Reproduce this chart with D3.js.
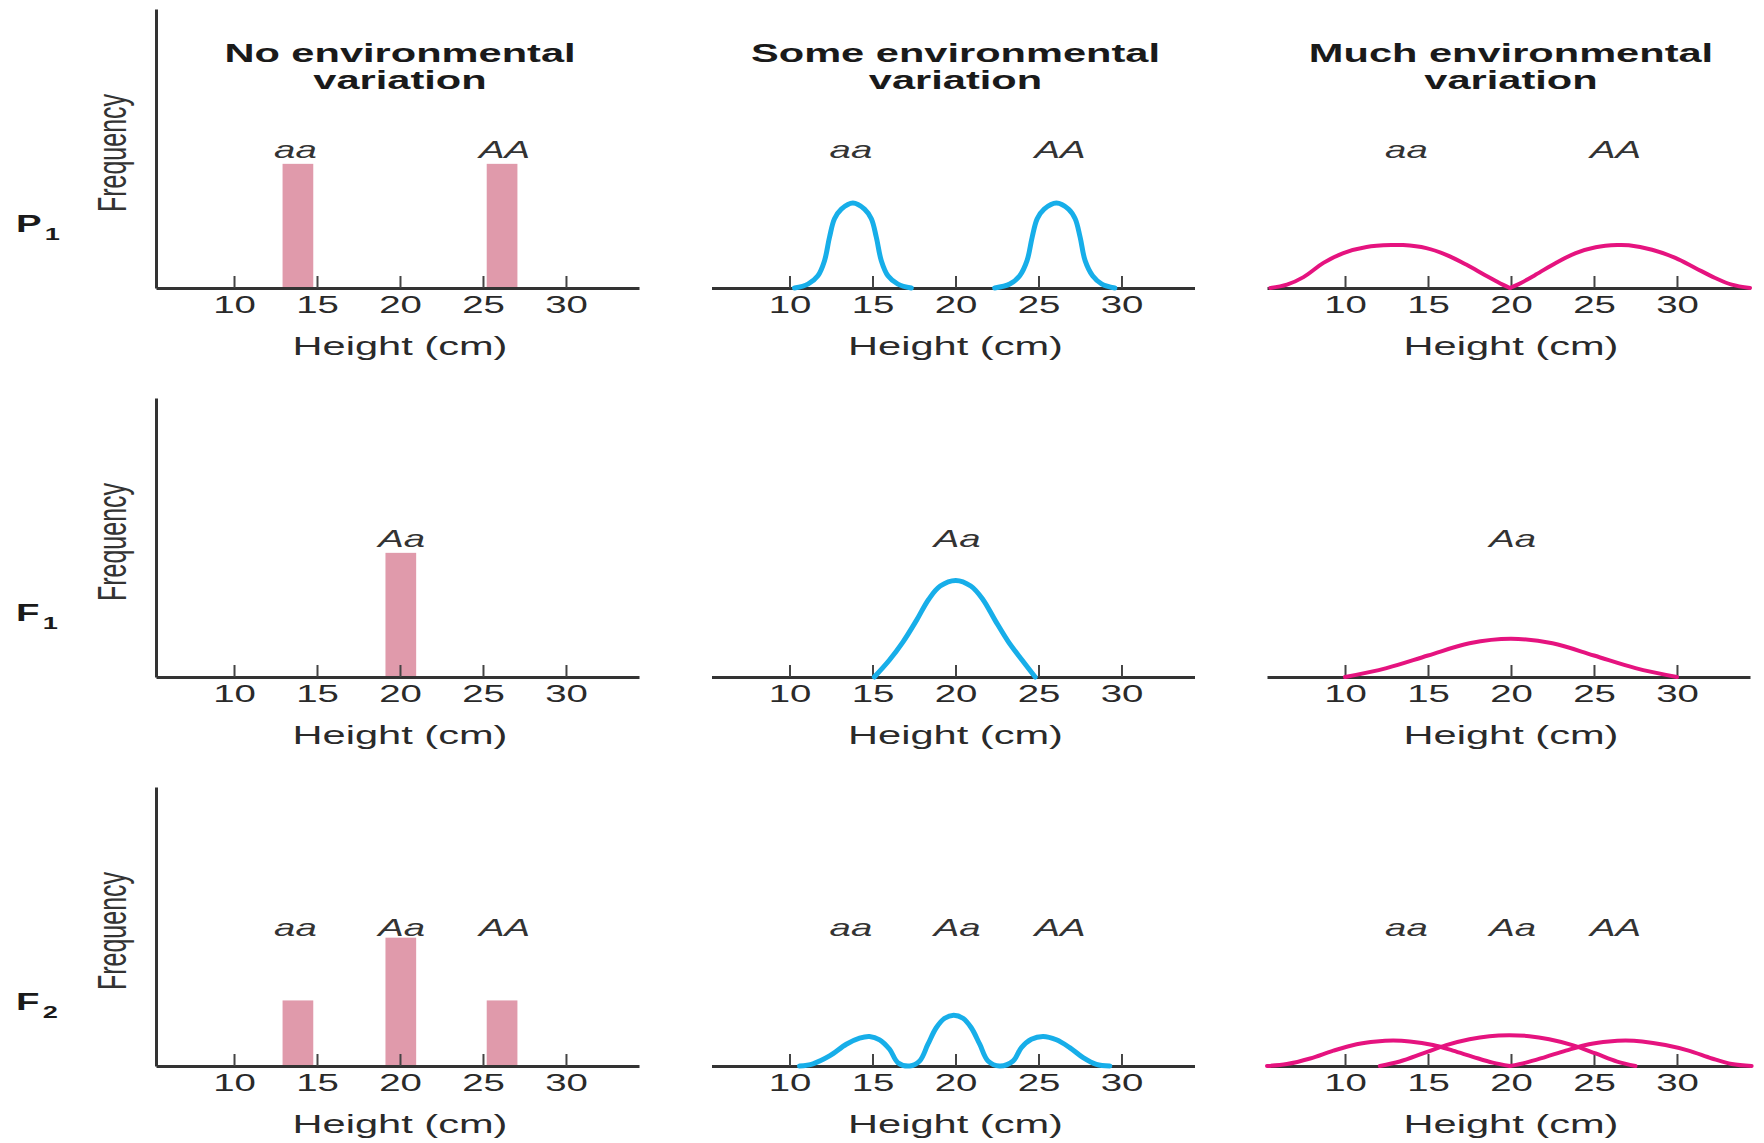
<!DOCTYPE html>
<html>
<head>
<meta charset="utf-8">
<script src="https://cdn.jsdelivr.net/npm/d3@7"></script>
<style>
  body { margin: 0; background: #fff; }
  svg { display: block; font-family: "Liberation Sans", Arial, Helvetica, sans-serif; }
</style>
</head>
<body>
<svg id="chart" width="1764" height="1143"></svg>
<script>
var columnTitles = [
  ['No environmental', 'variation'],
  ['Some environmental', 'variation'],
  ['Much environmental', 'variation']
];
var rowNames = [['P', '1'], ['F', '1'], ['F', '2']];
var rowGenotypes = [['aa', 'AA'], ['Aa'], ['aa', 'Aa', 'AA']];
var genotypeLabelX = { aa: 13.7, Aa: 20.1, AA: 26.3 };
var heightTicks = [10, 15, 20, 25, 30];
var heightDomain = [5.3, 34.4];
var freqDomain = [0, 100];

// no environmental variation: one bar per genotype (height in cm, frequency)
var barWidthCm = 1.85;
var barsP1 = [{ g: 'aa', x: 13.85, f: 44.5 }, { g: 'AA', x: 26.15, f: 44.5 }];
var barsF1 = [{ g: 'Aa', x: 20.05, f: 44.5 }];
var barsF2 = [{ g: 'aa', x: 13.85, f: 23.5 }, { g: 'Aa', x: 20.05, f: 46 }, { g: 'AA', x: 26.15, f: 23.5 }];

// some environmental variation, [height, frequency]
var someP1aa = [[10.3, 0], [11.11, 1.4], [11.71, 4.4], [12.11, 9.8], [12.41, 18.2], [12.71, 24.8], [13.12, 28.3], [13.82, 30.5], [14.52, 28.3], [14.93, 24.8], [15.23, 18.2], [15.53, 9.8], [15.93, 4.4], [16.53, 1.4], [17.34, 0]];
var someP1AA = [[22.36, 0], [23.27, 1.4], [23.87, 4.4], [24.31, 9.8], [24.62, 18.2], [24.92, 24.8], [25.34, 28.3], [26.08, 30.5], [26.81, 28.3], [27.21, 24.8], [27.51, 18.2], [27.81, 9.8], [28.26, 4.4], [28.82, 1.4], [29.6, 0]];
var someF1Aa = [[15.11, 0], [16.01, 6.0], [16.83, 12.5], [17.65, 20.3], [18.38, 27.8], [19.08, 32.6], [20.02, 34.6], [20.92, 32.6], [21.65, 27.8], [22.39, 20.3], [23.2, 12.5], [24.02, 6.0], [24.8, 0]];
var someF2 = [[10.6, 0], [11.41, 0.8], [12.41, 3.6], [13.42, 7.8], [14.22, 10.0], [14.82, 10.6], [15.43, 9.4], [16.03, 6.0], [16.53, 1.2], [17.24, 0], [17.84, 1.8], [18.34, 7.8], [18.84, 13.7], [19.35, 17.1], [19.89, 18.2], [20.45, 17.1], [20.95, 13.7], [21.46, 7.8], [21.96, 1.8], [22.66, 0], [23.47, 1.8], [23.97, 6.6], [24.57, 9.6], [25.28, 10.6], [26.08, 9.4], [26.88, 6.6], [27.69, 3.0], [28.49, 0.6], [29.3, 0]];

// much environmental variation
var muchP1aa = [[5.5, 0], [6.5, 1.2], [7.5, 3.9], [8.7, 9.0], [9.9, 12.5], [11.3, 14.7], [12.9, 15.4], [13.5, 15.4], [14.9, 14.3], [16.1, 11.9], [17.3, 8.4], [18.5, 4.4], [19.5, 1.2], [19.94, 0]];
var muchP1AA = [[19.94, 0], [20.4, 1.2], [21.5, 4.8], [22.7, 9.0], [23.9, 12.5], [25.1, 14.6], [26.4, 15.4], [27.1, 15.3], [28.5, 13.7], [29.9, 10.8], [31.1, 7.2], [32.3, 3.6], [33.3, 1.2], [34.4, 0]];
var muchF1Aa = [[10, 0], [12.5, 3.2], [15, 7.7], [17.5, 12.1], [20, 13.7], [22.5, 12.1], [25, 7.7], [27.5, 3.2], [30, 0]];
var muchF2aa = [[5.3, 0], [6.5, 0.7], [7.9, 2.7], [9.3, 5.5], [10.7, 7.8], [11.9, 8.8], [12.9, 9.1], [13.9, 8.8], [15.3, 7.5], [16.5, 5.5], [17.7, 3.3], [18.9, 1.2], [19.94, 0]];
var muchF2Aa = [[12.1, 0], [13.3, 1.6], [14.7, 4.5], [16.1, 7.5], [17.5, 9.6], [18.7, 10.7], [19.9, 11.0], [21.1, 10.7], [22.3, 9.6], [23.7, 7.5], [25.1, 4.5], [26.4, 1.6], [27.5, 0]];
var muchF2AA = [[19.94, 0], [20.9, 1.2], [22.1, 3.3], [23.3, 5.5], [24.7, 7.8], [25.9, 8.8], [26.9, 9.1], [27.9, 8.8], [29.3, 7.5], [30.7, 5.5], [32.1, 2.7], [33.3, 0.7], [34.5, 0]];

var barRows = [barsP1, barsF1, barsF2];
var curveRows = [
  null,
  [[someP1aa, someP1AA], [someF1Aa], [someF2]],
  [[muchP1aa, muchP1AA], [muchF1Aa], [muchF2aa, muchF2Aa, muchF2AA]]
];
var curveColors = [null, '#17aee9', '#e5137f'];
var curveWidths = [0, 5, 4];

// the source figure is stretched sideways, so every text is too
var STRETCH = 1.6;
var colLeft0 = 156, colStep = 555.5, axisWidth = 483;
var rowBase0 = 288, rowStep = 389, axisHeight = 279;

var svg = d3.select('#chart');
svg.append('rect').attr('width', 1764).attr('height', 1143).attr('fill', '#fff');

function stretchedText(g, x, y, txt, size, extra) {
  extra = extra || {};
  return g.append('text')
    .attr('transform', 'translate(' + x + ',' + y + ') scale(' + STRETCH + ',1)' + (extra.rotate ? ' rotate(' + extra.rotate + ')' : ''))
    .attr('text-anchor', extra.anchor || 'middle')
    .attr('font-size', size)
    .attr('font-weight', extra.weight || 'normal')
    .attr('font-style', extra.style || 'normal')
    .attr('fill', extra.fill || '#2a2a2a')
    .text(txt);
}

var line = d3.line().curve(d3.curveCatmullRom.alpha(0.5));

rowNames.forEach(function (rowName, r) {
  var base = rowBase0 + r * rowStep;

  var rl = svg.append('text')
    .attr('transform', 'translate(16,' + (base - 56) + ') scale(' + STRETCH + ',1)')
    .attr('font-weight', 'bold')
    .attr('fill', '#1a1a1a');
  rl.append('tspan').attr('font-size', 24).text(rowName[0]);
  rl.append('tspan').attr('font-size', 17).attr('dx', 2).attr('dy', 8).text(rowName[1]);

  columnTitles.forEach(function (title, c) {
    var left = colLeft0 + c * colStep;
    var x = d3.scaleLinear().domain(heightDomain).range([left, left + axisWidth]);
    var y = d3.scaleLinear().domain(freqDomain).range([base, base - axisHeight]);
    var g = svg.append('g');

    if (c === 0) {
      g.append('g')
        .attr('transform', 'translate(' + left + ',0)')
        .call(d3.axisLeft(y).tickValues([]).tickSizeOuter(0))
        .call(function (a) { a.select('.domain').attr('stroke', '#333').attr('stroke-width', 3); });
      stretchedText(g, 126, base - 135, 'Frequency', 25, { rotate: -90, fill: '#333' });

      g.selectAll('rect.bar')
        .data(barRows[r])
        .enter().append('rect')
        .attr('class', 'bar')
        .attr('x', function (d) { return x(d.x - barWidthCm / 2); })
        .attr('width', function (d) { return x(d.x + barWidthCm / 2) - x(d.x - barWidthCm / 2); })
        .attr('y', function (d) { return y(d.f); })
        .attr('height', function (d) { return y(0) - y(d.f); })
        .attr('fill', '#e09aab');
    }

    var ax = g.append('g')
      .attr('transform', 'translate(0,' + base + ')')
      .call(d3.axisBottom(x).tickValues(heightTicks).tickSize(-12).tickSizeOuter(0));
    ax.select('.domain').attr('stroke', '#333').attr('stroke-width', 3);
    ax.selectAll('.tick line').attr('stroke', '#444').attr('stroke-width', 2);
    ax.selectAll('.tick text')
      .attr('y', 25).attr('dy', 0)
      .attr('transform', 'scale(' + STRETCH + ',1)')
      .attr('font-size', 24)
      .attr('font-family', '"Liberation Sans", Arial, sans-serif')
      .attr('fill', '#2a2a2a');

    if (curveRows[c]) {
      line.x(function (d) { return x(d[0]); }).y(function (d) { return y(d[1]); });
      g.selectAll('path.curve')
        .data(curveRows[c][r])
        .enter().append('path')
        .attr('class', 'curve')
        .attr('d', line)
        .attr('fill', 'none')
        .attr('stroke', curveColors[c])
        .attr('stroke-width', curveWidths[c])
        .attr('stroke-linecap', 'round')
        .attr('stroke-linejoin', 'round');
    }

    stretchedText(g, x(20), base + 67, 'Height (cm)', 26);

    rowGenotypes[r].forEach(function (gt) {
      stretchedText(g, x(genotypeLabelX[gt]), base - 130, gt, 24, { style: 'italic', fill: '#333' });
    });

    if (r === 0) {
      stretchedText(g, x(20), base - 226, title[0], 26, { weight: 'bold', fill: '#1a1a1a' });
      stretchedText(g, x(20), base - 199, title[1], 26, { weight: 'bold', fill: '#1a1a1a' });
    }
  });
});
</script>
</body>
</html>
